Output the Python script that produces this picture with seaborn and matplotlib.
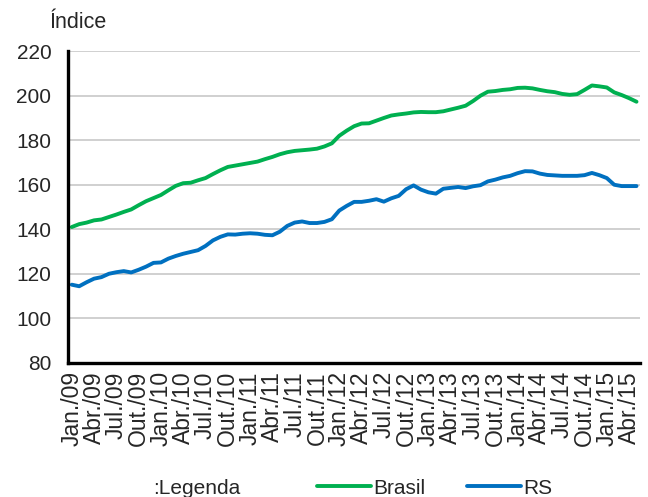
import numpy as np
import pandas as pd
import matplotlib
matplotlib.use("Agg")
import matplotlib.pyplot as plt
import seaborn as sns
from matplotlib.lines import Line2D
from matplotlib.ticker import FixedLocator

# Monthly index values, Jan/2009 - May/2015
brasil = [141.0, 142.3, 143.0, 144.0, 144.4, 145.5, 146.6, 147.8, 148.9, 150.8,
          152.6, 154.0, 155.4, 157.5, 159.5, 160.7, 160.9, 162.0, 163.0, 164.8,
          166.5, 168.0, 168.6, 169.2, 169.8, 170.4, 171.5, 172.5, 173.7, 174.6,
          175.2, 175.5, 175.8, 176.2, 177.2, 178.6, 182.0, 184.3, 186.3, 187.5,
          187.6, 188.8, 190.0, 191.1, 191.6, 192.0, 192.5, 192.7, 192.6, 192.6,
          193.0, 193.8, 194.6, 195.5, 197.6, 200.0, 201.8, 202.1, 202.6, 202.9,
          203.5, 203.6, 203.3, 202.6, 202.0, 201.6, 200.8, 200.4, 200.7, 202.6,
          204.6, 204.2, 203.7, 201.5, 200.3, 198.9, 197.3]
rs = [115.1, 114.4, 116.2, 117.8, 118.5, 120.0, 120.7, 121.2, 120.6, 121.8,
      123.2, 124.9, 125.1, 126.8, 128.0, 129.0, 129.8, 130.6, 132.5, 135.0,
      136.6, 137.7, 137.6, 138.0, 138.2, 138.0, 137.5, 137.3, 138.9, 141.5,
      143.0, 143.5, 142.8, 142.8, 143.3, 144.5, 148.4, 150.5, 152.3, 152.3,
      152.8, 153.5, 152.4, 153.9, 155.0, 158.0, 159.7, 157.8, 156.6, 156.0,
      158.2, 158.6, 159.0, 158.5, 159.3, 159.8, 161.5, 162.3, 163.3, 164.0,
      165.2, 166.1, 166.0, 165.0, 164.4, 164.2, 164.0, 164.0, 164.0, 164.3,
      165.3, 164.3, 163.0, 160.0, 159.4, 159.4, 159.4]
series_names = ["Brasil", "RS"]
quarter_labels = ["Jan./09", "Abr./09", "Jul./09", "Out./09",
                  "Jan./10", "Abr./10", "Jul./10", "Out./10",
                  "Jan./11", "Abr./11", "Jul./11", "Out./11",
                  "Jan./12", "Abr./12", "Jul./12", "Out./12",
                  "Jan./13", "Abr./13", "Jul./13", "Out./13",
                  "Jan./14", "Abr./14", "Jul./14", "Out./14",
                  "Jan./15", "Abr./15"]
y_ticks = [80, 100, 120, 140, 160, 180, 200, 220]

colors = {"Brasil": "#00b050", "RS": "#0070c0"}

n = len(brasil)
df = pd.DataFrame({
    "mes": list(range(n)) * 2,
    "indice": brasil + rs,
    "serie": [series_names[0]] * n + [series_names[1]] * n,
})

sns.set_style("white")
plt.rcParams["font.family"] = ["Liberation Sans", "DejaVu Sans"]

fig = plt.figure(figsize=(6.48, 4.97), dpi=100)
ax = fig.add_axes([0.105, 0.270, 0.883, 0.627])

ax.yaxis.grid(True, color="#c8c8c8", linewidth=1.2)
ax.set_axisbelow(True)

sns.lineplot(data=df, x="mes", y="indice", hue="serie", palette=colors,
             linewidth=2.8, legend=False, ax=ax)

ax.set_xlim(-0.5, n - 0.5)
ax.set_ylim(80, 220)
ax.set_yticks(y_ticks)
ax.set_yticklabels([str(v) for v in y_ticks], fontsize=15)

ax.set_xticks(np.arange(0, n, 3)[:len(quarter_labels)])
ax.set_xticklabels(quarter_labels, rotation=90, fontsize=16.5)
ax.xaxis.set_minor_locator(FixedLocator(np.arange(-0.5, n, 1.0)))
ax.tick_params(axis="x", which="major", length=0, pad=6)
ax.tick_params(axis="x", which="minor", length=3.5, width=1.6, color="black",
               direction="out")
ax.tick_params(axis="y", which="major", length=4, width=2, color="black",
               direction="out", pad=8)
ax.set_xlabel("")
ax.set_ylabel("")

for side in ["top", "right"]:
    ax.spines[side].set_visible(False)
for side in ["left", "bottom"]:
    ax.spines[side].set_color("black")
    ax.spines[side].set_linewidth(2.4)

fig.text(0.077, 0.955, "Índice", fontsize=15.5, ha="left", va="center")

fig.text(0.304, 0.018, ":Legenda", fontsize=15, ha="center", va="center")
handles = [Line2D([0], [0], color=colors[s], linewidth=2.8) for s in series_names]
fig.legend(handles, series_names, loc="center left", bbox_to_anchor=(0.46, 0.018),
           ncol=2, frameon=False, fontsize=15, handlelength=2.6,
           handletextpad=0.1, columnspacing=2.0)

fig.savefig("out.png", dpi=100)
